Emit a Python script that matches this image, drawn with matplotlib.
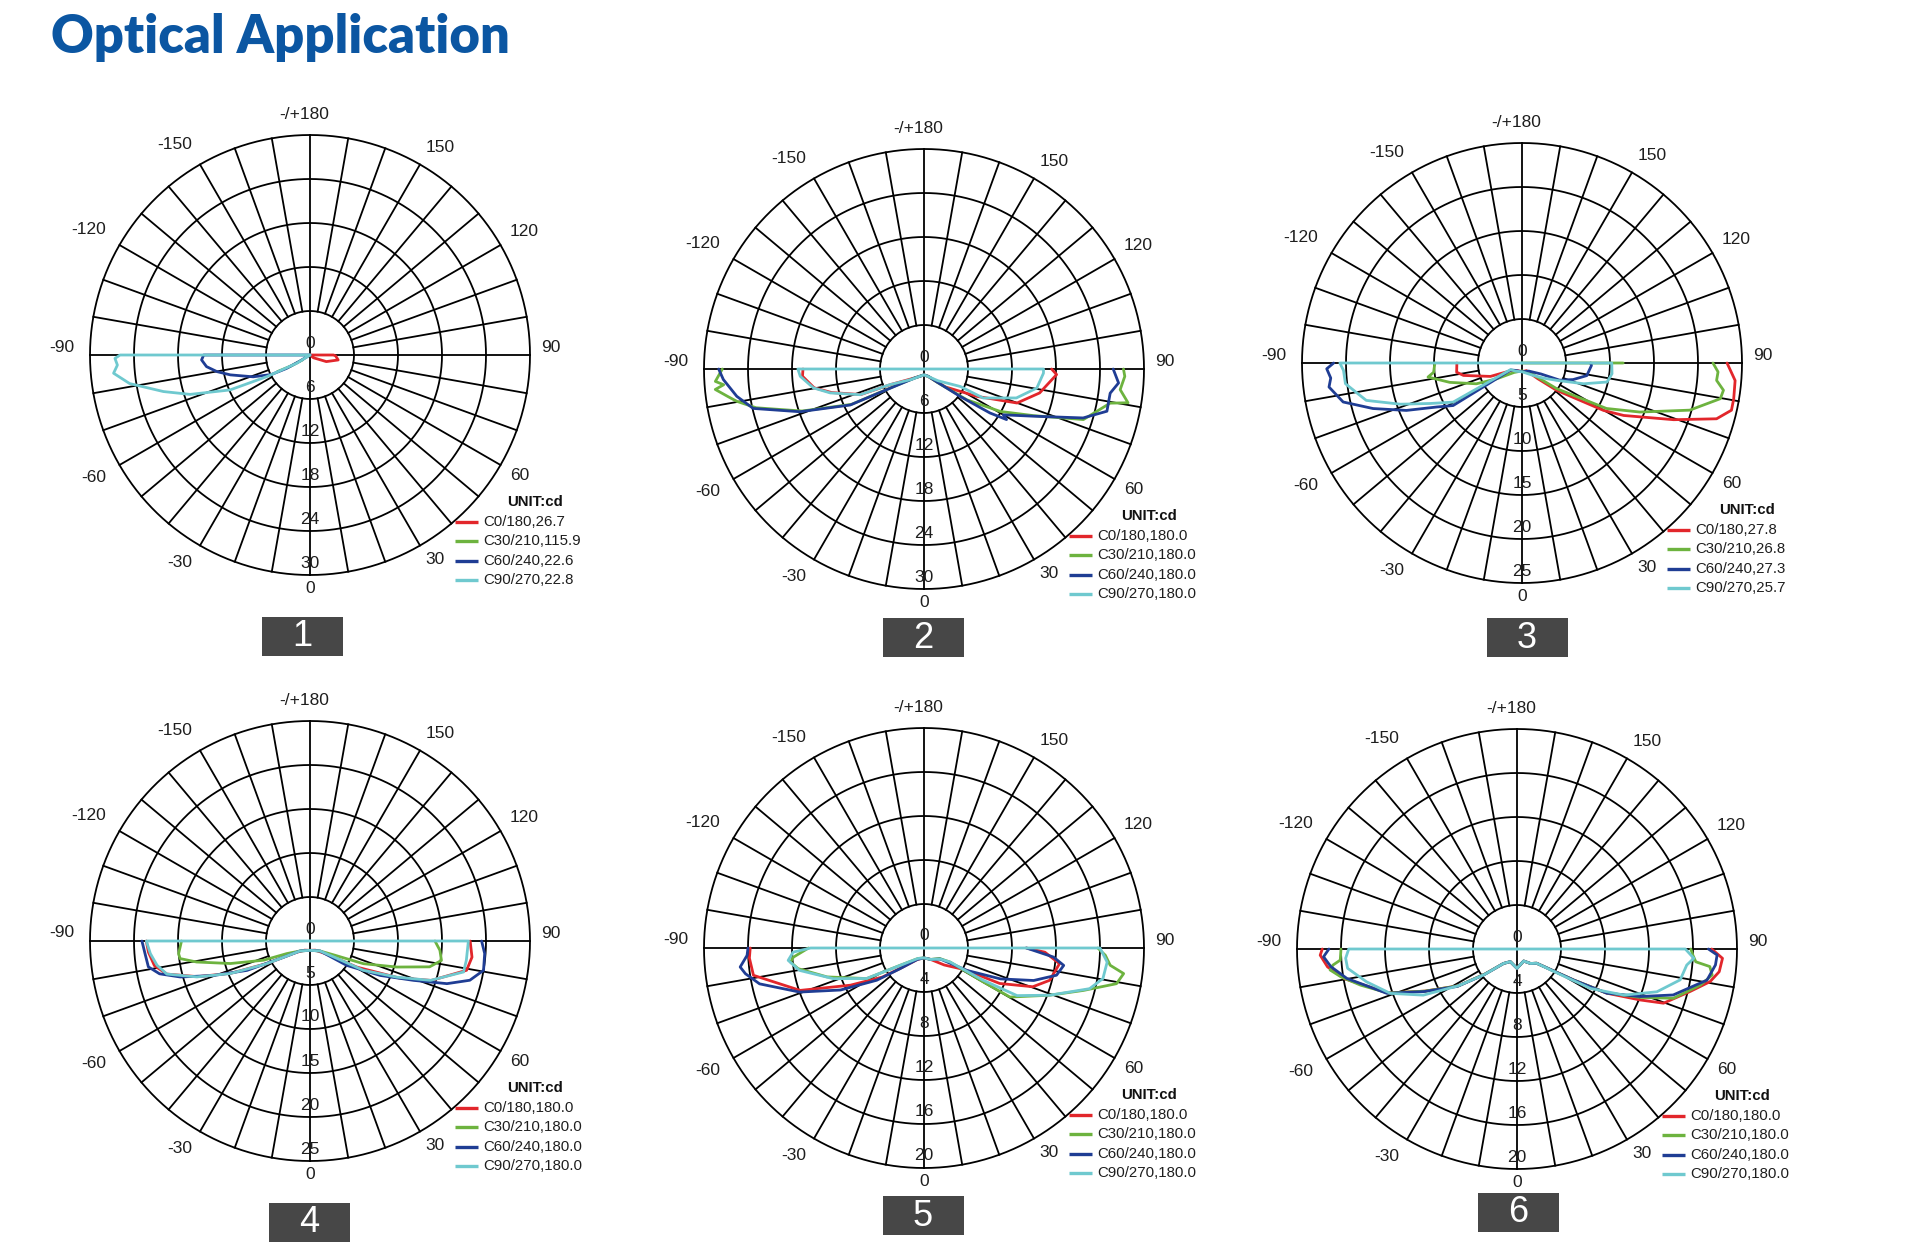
"""
Optical application polar intensity diagrams (six lens types).
"""

import matplotlib

matplotlib.use("Agg")
import matplotlib.pyplot as plt
import numpy as np
from matplotlib.patches import Rectangle

W, H = 1920, 1260
R_PX = 220

RED = "#e2262b"
GREEN = "#6db33f"
BLUE = "#1f3d94"
CYAN = "#6fc9cf"
SERIES_COLORS = [RED, GREEN, BLUE, CYAN]

TITLE = "Optical Application"
ANGLE_TICKS = [180, 150, 120, 90, 60, 30, 0, -30, -60, -90, -120, -150]
ANGLE_LABELS = ["-/+180", "150", "120", "90", "60", "30", "0",
                "-30", "-60", "-90", "-120", "-150"]

# ring labels per chart
RINGS_1 = [0, 6, 12, 18, 24, 30]
RINGS_2 = [0, 6, 12, 18, 24, 30]
RINGS_3 = [0, 5, 10, 15, 20, 25]
RINGS_4 = [0, 5, 10, 15, 20, 25]
RINGS_5 = [0, 4, 8, 12, 16, 20]
RINGS_6 = [0, 4, 8, 12, 16, 20]

LEGEND_1 = ["C0/180,26.7", "C30/210,115.9", "C60/240,22.6", "C90/270,22.8"]
LEGEND_2 = ["C0/180,180.0", "C30/210,180.0", "C60/240,180.0", "C90/270,180.0"]
LEGEND_3 = ["C0/180,27.8", "C30/210,26.8", "C60/240,27.3", "C90/270,25.7"]
LEGEND_4 = ["C0/180,180.0", "C30/210,180.0", "C60/240,180.0", "C90/270,180.0"]
LEGEND_5 = ["C0/180,180.0", "C30/210,180.0", "C60/240,180.0", "C90/270,180.0"]
LEGEND_6 = ["C0/180,180.0", "C30/210,180.0", "C60/240,180.0", "C90/270,180.0"]

# curve paths: (angle deg, intensity); a 0 value means the path runs back to the centre
# ---- chart 1 ----
C1_RED_ANG = [51, 51, 68, 80, 88, 90, 90]
C1_RED_CD = [0, 0.6, 2.4, 3.9, 3.5, 3.2, 0]
C1_GREEN_ANG = [-63, -60, -57]
C1_GREEN_CD = [5.0, 3.0, 1.2]
C1_BLUE_ANG = [-90, -90, -87.4, -83.6, -79.9, -76, -69, -63.2, -60.3, -59, -59]
C1_BLUE_CD = [0, 14.5, 14.8, 14.2, 12.9, 11.2, 8.3, 5.9, 3.7, 1.6, 0]
C1_CYAN_ANG = [-90, -90, -89, -87, -84.7, -81, -76, -71.8, -66.4, -63.4, -58, -58]
C1_CYAN_CD = [0, 25.9, 26.6, 26.3, 26.9, 24.9, 20.6, 17.2, 11.9, 6.6, 2.1, 0]

# ---- chart 2 ----
C2_RED_ANG = [-90, -86.6, -80.3, -75.7, -68, -65, -50, -30, 0, 30, 50,
              62.6, 69.9, 78.3, 87.6, 90]
C2_RED_CD = [16.5, 16.6, 15.2, 13.0, 9.3, 5.0, 2.0, 1.15, 0.8, 1.2, 3.8,
             8.1, 13.5, 16.1, 18.1, 17.4]
C2_GREEN_ANG = [-90, -86.6, -85.5, -84.4, -82, -80.2, -77, -71, -64, -61,
                -54.6, -45, -30, 0, 30, 45, 54.3, 60.9, 66.9, 72.4, 79.6,
                80.6, 84, 87.9, 90]
C2_GREEN_CD = [27.5, 28.5, 27.4, 28.6, 27.0, 25.9, 23.5, 17.6, 11.0, 5.6,
               2.8, 1.7, 1.15, 0.8, 1.15, 2.6, 7.2, 11.9, 16.2, 22.8, 25.8,
               28.2, 26.9, 27.4, 27.2]
C2_BLUE_ANG = [-90, -87, -81.7, -77, -71, -64, -61, -54.6, -45, -30, 0, 30,
               45, 52.8, 56.3, 58.5, 60, 66.6, 72.9, 77, 82.6, 85.9, 90]
C2_BLUE_CD = [28.0, 27.4, 25.8, 23.9, 17.9, 11.2, 5.8, 2.9, 1.7, 1.15, 0.8,
              1.15, 2.5, 6.2, 10.8, 13.2, 12.5, 16.2, 22.7, 25.6, 25.6, 26.6,
              25.8]
C2_CYAN_ANG = [-90, -90, -86.6, -80.3, -75.7, -68.1, -65.3, -50, -30, 0, 30,
               50, 64.3, 63.9, 72.6, 80.4, 88, 90, 90]
C2_CYAN_CD = [0, 17.2, 16.9, 15.3, 13.2, 9.4, 5.1, 2.2, 1.15, 0.8, 1.2,
              2.5, 5.5, 9.0, 13.2, 15.6, 16.3, 16.3, 0]

# ---- chart 3 ----
C3_RED_ANG = [-90, -82, -78, -67, -55, -30, 0, 30, 45, 51.7, 59.8, 62.7,
              69.5, 74, 77.3, 80.4, 85.3, 90]
C3_RED_CD = [7.4, 7.5, 6.8, 3.9, 1.5, 1.0, 1.0, 1.0, 2.5, 5.0, 10.7, 13.0,
             18.4, 23.0, 24.4, 24.4, 24.3, 23.3]
C3_GREEN_ANG = [-90, -84, -81.5, -75, -65.5, -58, -40, 0, 40, 53.5, 61.7,
                67.4, 74.3, 79.8, 82.3, 84.9, 87.4, 90, np.nan, 90, 90]
C3_GREEN_CD = [9.9, 10.1, 10.8, 8.5, 5.7, 3.4, 1.4, 0.9, 1.5, 4.9, 10.9,
               14.5, 19.8, 22.9, 23.1, 22.2, 22.3, 21.7, np.nan, 0, 11.5]
C3_BLUE_ANG = [-90, -88.3, -85.5, -82.9, -77.7, -73, -67.7, -62.7, -58.3,
               -58, -40, 0, 40, 60, 65.5, 72, 79, 88, 90]
C3_BLUE_CD = [21.4, 22.2, 21.8, 22.1, 20.8, 17.7, 14.2, 10.9, 9.2, 1.5,
              1.1, 1.0, 1.2, 2.5, 4.7, 6.1, 7.5, 7.9, 7.8]
C3_CYAN_ANG = [-90, -90, -87.6, -83.3, -76.5, -71.3, -66.2, -60.4, -60, -40,
               0, 20, 40, 55, 63.4, 71.4, 77.4, 83.2, 90, 90]
C3_CYAN_CD = [0, 20.7, 20.3, 20.2, 18.2, 14.6, 11.4, 9.0, 1.5, 1.2, 1.0,
              1.2, 1.8, 3.0, 4.4, 7.4, 9.9, 10.3, 10.2, 0]

# ---- chart 4 ----
C4_RED_ANG = [-90, -86, -81, -77, -72.4, -67.8, -62.4, -50, -30, 0, 30, 50,
              60.9, 67.4, 72, 79.4, 84.3, 90]
C4_RED_CD = [18.6, 18.4, 17.9, 16.7, 13.4, 9.7, 5.5, 2.0, 1.2, 1.06, 1.2,
             2.2, 6.1, 10.9, 14.5, 18.1, 18.5, 18.2]
C4_GREEN_ANG = [-90, -84.5, -82.3, -79.5, -74.2, -67.5, -61.5, -45, 0, 45,
                60, 67, 73.3, 77.8, 81.6, 85.9, 90]
C4_GREEN_CD = [14.6, 15.0, 14.9, 13.1, 9.4, 5.7, 3.0, 1.6, 1.06, 1.6, 3.2,
               6.6, 10.3, 13.9, 15.1, 14.8, 14.2]
C4_BLUE_ANG = [-90, -85.6, -80.9, -77.7, -74.5, -70.4, -65, -59.5, -45, 0,
               45, 56.4, 63.9, 69.2, 72.7, 76.2, 80.4, 85.9, 90]
C4_BLUE_CD = [19.1, 18.8, 18.6, 17.5, 15.3, 11.7, 7.9, 3.9, 1.6, 1.06, 1.6,
              5.0, 8.9, 12.6, 16.3, 18.7, 20.0, 19.9, 19.5]
C4_CYAN_ANG = [-90, -90, -85.5, -81, -77, -72.4, -67.8, -62.4, -45, 0, 45,
               58, 61.2, 67.4, 71.9, 78.6, 83, 90, 90]
C4_CYAN_CD = [0, 18.6, 18.2, 17.6, 16.7, 13.5, 9.8, 5.6, 1.6, 1.06, 1.6,
              4.0, 6.9, 10.7, 14.4, 17.8, 17.9, 18.0, 0]

# ---- chart 5 ----
C5_RED_ANG = [-90, -86.7, -80.9, -71.1, -63.2, -55, -48, -30, 0, 30, 50, 62,
              64.9, 70.4, 75.6, 83.4, 88, 90]
C5_RED_CD = [15.8, 15.9, 15.7, 11.9, 7.5, 4.6, 2.6, 1.2, 0.9, 1.2, 2.4, 4.2,
             7.6, 10.5, 11.8, 12.4, 11.0, 9.3]
C5_GREEN_ANG = [-90, -86, -84, -80.7, -73.4, -61.9, -54.2, -30, 0, 30, 56,
                61.7, 60.2, 60.3, 69.4, 75.1, 79.5, 82.7, 84.7, 87.7, 90]
C5_GREEN_CD = [10.5, 11.9, 12.2, 11.6, 9.2, 5.9, 2.7, 1.1, 0.9, 1.2, 1.7,
               2.7, 6.2, 9.0, 12.2, 15.0, 17.8, 18.3, 17.0, 16.5, 15.8]
C5_BLUE_ANG = [-90, -87.6, -84.1, -81.8, -77.7, -70.5, -63.3, -55.7, -49.3,
               -30, 0, 30, 56, 62.4, 68, 73.5, 78.4, 82.9, 86, 90]
C5_BLUE_CD = [16.0, 16.1, 16.8, 16.4, 15.3, 12.0, 8.5, 5.2, 2.9, 1.2, 0.9,
              1.2, 1.8, 4.4, 7.5, 10.4, 12.3, 12.8, 11.8, 9.3]
C5_CYAN_ANG = [-90, -90, -88.2, -84.8, -79.8, -71.3, -62, -54, -30, 0, 30, 56,
               61.7, 61.4, 62.9, 69.4, 76.2, 80.3, 85.6, 90, 90]
C5_CYAN_CD = [0, 10.3, 11.9, 12.4, 11.5, 8.7, 5.9, 2.7, 1.1, 0.9, 1.2, 1.8,
              2.7, 6.1, 9.5, 12.2, 15.5, 16.5, 16.7, 16.0, 0]

# ---- chart 6 ----
C6_RED_ANG = [-90, -88.2, -84.6, -80.2, -71.2, -65.4, -57.9, -52, -43, -28,
              0, 29, 43, 54, 61.3, 63.8, 67.5, 69.7, 76.2, 80.4, 83.6, 87.4,
              90]
C6_RED_CD = [17.7, 17.9, 17.3, 15.9, 12.4, 9.2, 6.3, 3.7, 1.8, 1.3, 1.76,
             1.25, 1.8, 2.2, 5.9, 9.1, 12.1, 14.2, 16.2, 17.8, 18.5, 18.7,
             17.7]
C6_GREEN_ANG = [-90, -86.4, -85, -83.6, -81, -77, -71.2, -65.4, -57.9, -52,
                -43, -28, 0, 29, 43, 54, 61.3, 63.8, 68.5, 72.5, 78.9, 82.4,
                84.8, 85.9, 88, 90]
C6_GREEN_CD = [16.0, 16.1, 16.8, 17.1, 16.2, 14.6, 12.4, 9.2, 6.3, 3.7, 1.8,
               1.3, 1.76, 1.25, 1.8, 2.2, 5.9, 9.0, 12.0, 14.9, 17.0, 17.9,
               17.6, 16.3, 16.0, 15.8]
C6_BLUE_ANG = [-90, -87.7, -84.6, -80.2, -71.2, -65.4, -57.9, -52, -43, -28,
               0, 29, 43, 54, 61.3, 63.8, 68.9, 73.6, 80.7, 85.4, 88.3, 90]
C6_BLUE_CD = [17.1, 17.6, 17.0, 15.7, 12.5, 9.3, 6.4, 3.8, 1.8, 1.3, 1.76,
              1.25, 1.8, 2.2, 5.9, 9.1, 12.0, 14.8, 17.5, 18.1, 18.2, 17.4]
C6_CYAN_ANG = [-90, -90, -86.9, -83.5, -77.7, -70.7, -63.8, -57.9, -52, -43,
               -28, 0, 29, 43, 54, 60, 61.8, 66.7, 73, 79.3, 84.6, 87, 90, 90]
C6_CYAN_CD = [0, 15.3, 15.6, 15.5, 14.0, 12.2, 9.5, 6.3, 3.8, 1.8, 1.3, 1.76,
              1.25, 1.8, 2.2, 5.0, 7.6, 10.6, 13.3, 15.1, 15.5, 16.1, 15.3, 0]

# chart centres and number boxes, in pixels from the top-left corner
CENTERS = [(310, 355), (924, 369), (1522, 363), (310, 941), (924, 948), (1517, 949)]
BOXES = [(302, 636), (923, 637), (1527, 637), (309, 1222), (923, 1215), (1518, 1212)]

plt.rcParams["font.family"] = ["Liberation Sans", "DejaVu Sans"]
TEXT_COLOR = "#1e1e1e"

# vertical nudge (pixels, up is positive) of the angle labels
LABEL_LIFT = {90: 8, -90: 8, 120: 8, -120: 8, 150: 7, -150: 7, 60: -5, -60: -5, 30: -4, -30: -4}


def draw_polar(fig, cx, cy, rings, curves):
    rmax = rings[-1]
    ax = fig.add_axes([(cx - R_PX) / W, 1 - (cy + R_PX) / H, 2 * R_PX / W, 2 * R_PX / H],
                      projection="polar")
    ax.set_theta_zero_location("S")
    ax.set_theta_direction(1)
    ax.set_ylim(0, rmax)
    ax.set_axis_off()

    circle = np.linspace(0, 2 * np.pi, 721)
    for r in rings[1:]:
        ax.plot(circle, np.full_like(circle, r), color="black", lw=1.3, clip_on=False)
    r_inner = rings[1]
    for deg in range(0, 360, 10):
        start = 0 if deg % 90 == 0 else r_inner
        ax.plot([np.deg2rad(deg)] * 2, [start, rmax], color="black", lw=1.3, clip_on=False)

    for v in rings:
        ax.annotate(f"{v:g}", xy=(0, v), xytext=(0, 12), textcoords="offset pixels",
                    ha="center", va="center", fontsize=12.5, color=TEXT_COLOR)

    for a, lab in zip(ANGLE_TICKS, ANGLE_LABELS):
        if a == 180:
            dist, ha, dx = 1.095, "center", -6
        elif a == 0:
            dist, ha, dx = 1.06, "center", 0
        elif a > 0:
            dist, ha, dx = 1.05, "left", 0
        else:
            dist, ha, dx = 1.07, "right", 0
        ax.annotate(lab, xy=(np.deg2rad(a), rmax * dist), xytext=(dx, LABEL_LIFT.get(a, 0)),
                    textcoords="offset pixels", ha=ha, va="center",
                    fontsize=12.5, color=TEXT_COLOR, annotation_clip=False)

    for (ang, val), color in zip(curves, SERIES_COLORS):
        ax.plot(np.deg2rad(ang), val, color=color, lw=2.0,
                solid_joinstyle="round", solid_capstyle="round", clip_on=False)
    return ax


def draw_legend(ov, cx, cy, labels):
    ov.text(cx + 225, cy + 147, "UNIT:cd", ha="center", va="center",
            fontsize=10.8, fontweight="bold", color="#111111")
    for k, (lab, color) in enumerate(zip(labels, SERIES_COLORS)):
        y = cy + 167 + k * 19.4
        ov.plot([cx + 145, cx + 168], [y, y], color=color, lw=2.4, solid_capstyle="butt")
        ov.text(cx + 173, y, lab, ha="left", va="center", fontsize=10.8, color=TEXT_COLOR)


fig = plt.figure(figsize=(W / 100, H / 100), dpi=100)
fig.patch.set_facecolor("white")

all_rings = [RINGS_1, RINGS_2, RINGS_3, RINGS_4, RINGS_5, RINGS_6]
all_legends = [LEGEND_1, LEGEND_2, LEGEND_3, LEGEND_4, LEGEND_5, LEGEND_6]
all_curves = [
    [(C1_RED_ANG, C1_RED_CD), (C1_GREEN_ANG, C1_GREEN_CD), (C1_BLUE_ANG, C1_BLUE_CD), (C1_CYAN_ANG, C1_CYAN_CD)],
    [(C2_RED_ANG, C2_RED_CD), (C2_GREEN_ANG, C2_GREEN_CD), (C2_BLUE_ANG, C2_BLUE_CD), (C2_CYAN_ANG, C2_CYAN_CD)],
    [(C3_RED_ANG, C3_RED_CD), (C3_GREEN_ANG, C3_GREEN_CD), (C3_BLUE_ANG, C3_BLUE_CD), (C3_CYAN_ANG, C3_CYAN_CD)],
    [(C4_RED_ANG, C4_RED_CD), (C4_GREEN_ANG, C4_GREEN_CD), (C4_BLUE_ANG, C4_BLUE_CD), (C4_CYAN_ANG, C4_CYAN_CD)],
    [(C5_RED_ANG, C5_RED_CD), (C5_GREEN_ANG, C5_GREEN_CD), (C5_BLUE_ANG, C5_BLUE_CD), (C5_CYAN_ANG, C5_CYAN_CD)],
    [(C6_RED_ANG, C6_RED_CD), (C6_GREEN_ANG, C6_GREEN_CD), (C6_BLUE_ANG, C6_BLUE_CD), (C6_CYAN_ANG, C6_CYAN_CD)],
]

for (cx, cy), rings, curves in zip(CENTERS, all_rings, all_curves):
    draw_polar(fig, cx, cy, rings, curves)

# overlay in pixel coordinates for title, legends and number boxes
ov = fig.add_axes([0, 0, 1, 1])
ov.set_xlim(0, W)
ov.set_ylim(H, 0)
ov.axis("off")

for (cx, cy), labels in zip(CENTERS, all_legends):
    draw_legend(ov, cx, cy, labels)

for n, (bx, by) in enumerate(BOXES, start=1):
    ov.add_patch(Rectangle((bx - 40.5, by - 19.5), 81, 39, facecolor="#474747", edgecolor="none"))
    ov.text(bx, by + 1, str(n), ha="center", va="center", fontsize=26, color="white")

title = ov.text(51, 53, TITLE, ha="left", va="baseline", fontsize=40,
                fontweight="heavy", color="#0b56a2", family=["Lato", "DejaVu Sans"])
fig.canvas.draw()
tw = title.get_window_extent().width
title.set_fontsize(40 * 458 / tw)

fig.savefig("out.png", dpi=100, facecolor="white")
plt.close(fig)
